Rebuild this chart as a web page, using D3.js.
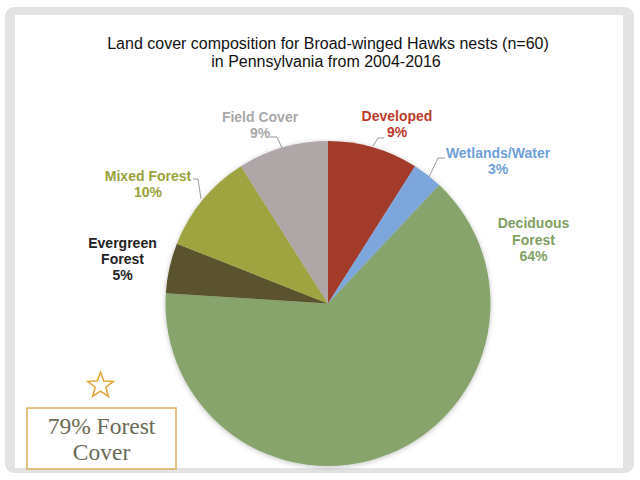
<!DOCTYPE html>
<html><head><meta charset="utf-8">
<script src="https://cdn.jsdelivr.net/npm/d3@7"></script>
<style>html,body{margin:0;padding:0;background:#fff;}svg{display:block;}</style>
</head><body>
<svg id="c" width="640" height="480"></svg>
<script>
const categories = ["Developed","Wetlands/Water","Deciduous Forest","Evergreen Forest","Mixed Forest","Field Cover"];
const values = [9,3,64,5,10,9];
const sliceColors = ["#A23A29","#7DA6DD","#86A46C","#5A532D","#9FA43F","#AFA6A7"];
const labelColors = ["#BD3B2C","#6E9FDA","#7FA062","#222222","#9AA23A","#A9A9A9"];
const labelLines = [["Developed","9%"],["Wetlands/Water","3%"],["Deciduous","Forest","64%"],["Evergreen","Forest","5%"],["Mixed Forest","10%"],["Field Cover","9%"]];

const svg = d3.select("#c");
// frame
svg.append("rect").attr("x",5).attr("y",7).attr("width",629).attr("height",466).attr("rx",9).attr("fill","#e3e3e3");
svg.append("rect").attr("x",15).attr("y",15).attr("width",608).attr("height",453).attr("fill","#ffffff");

// title
const title = svg.append("text").attr("text-anchor","middle").attr("font-family","Liberation Sans, Arial, sans-serif").attr("font-size",16).attr("fill","#111");
title.append("tspan").attr("x",328).attr("y",48.5).text("Land cover composition for Broad-winged Hawks nests (n=60)");
title.append("tspan").attr("x",326).attr("y",66.5).text("in Pennsylvania from 2004-2016");

// shadow filter
const defs = svg.append("defs");
const f = defs.append("filter").attr("id","sh").attr("x","-10%").attr("y","-10%").attr("width","120%").attr("height","120%");
f.append("feDropShadow").attr("dx",0).attr("dy",1).attr("stdDeviation",2.5).attr("flood-color","#000").attr("flood-opacity",0.25);

const cx = 328, cy = 303.5, r = 162.5;
const pie = d3.pie().sort(null).value(d=>d)(values);
const arc = d3.arc().innerRadius(0).outerRadius(r);
const g = svg.append("g").attr("transform",`translate(${cx},${cy})`);
g.append("g").attr("filter","url(#sh)").selectAll("path").data(pie).join("path")
  .attr("d",arc).attr("fill",(d,i)=>sliceColors[i]);

// labels
const labelPos = [[397,121],[498,158],[533.5,228.3],[122.5,247.8],[148,181],[260,121.5]];
const lh = 16.3;
labelLines.forEach((lines,i)=>{
  const t = svg.append("text").attr("text-anchor","middle").attr("font-family","Liberation Sans, Arial, sans-serif")
    .attr("font-weight","bold").attr("font-size",14).attr("fill",labelColors[i]);
  lines.forEach((s,j)=>t.append("tspan").attr("x",labelPos[i][0]).attr("y",labelPos[i][1]+j*lh).text(s));
});

// leader lines
const leaders = [
  [[384,138],[378,138],[373,146]],
  [[445,158],[438,158],[429,177]],
  null,null,
  [[193,179],[198,179],[201,199]],
  [[270,137],[277,137],[282,148]]
];
leaders.forEach(p=>{ if(!p) return;
  svg.append("path").attr("d",d3.line()(p)).attr("fill","none").attr("stroke","#9a9a9a").attr("stroke-width",1);
});

// star
const star = [];
for(let k=0;k<10;k++){
  const a = -Math.PI/2 + k*Math.PI/5;
  const rr = k%2===0 ? 13.5 : 5.6;
  star.push([100.5+rr*Math.cos(a), 385.5+rr*Math.sin(a)]);
}
svg.append("path").attr("d",d3.line()(star)+"Z").attr("fill","none").attr("stroke","#E2A435").attr("stroke-width",1.5);

// box
svg.append("rect").attr("x",27).attr("y",408).attr("width",149).attr("height",61).attr("fill","#fff").attr("stroke","#DDB05A").attr("stroke-width",1.5);
const bt = svg.append("text").attr("text-anchor","middle").attr("font-family","Liberation Serif, Times New Roman, serif").attr("font-size",23.5).attr("fill","#6A6A55");
bt.append("tspan").attr("x",101.5).attr("y",434).text("79% Forest");
bt.append("tspan").attr("x",101.5).attr("y",460).text("Cover");
</script>
</body></html>
